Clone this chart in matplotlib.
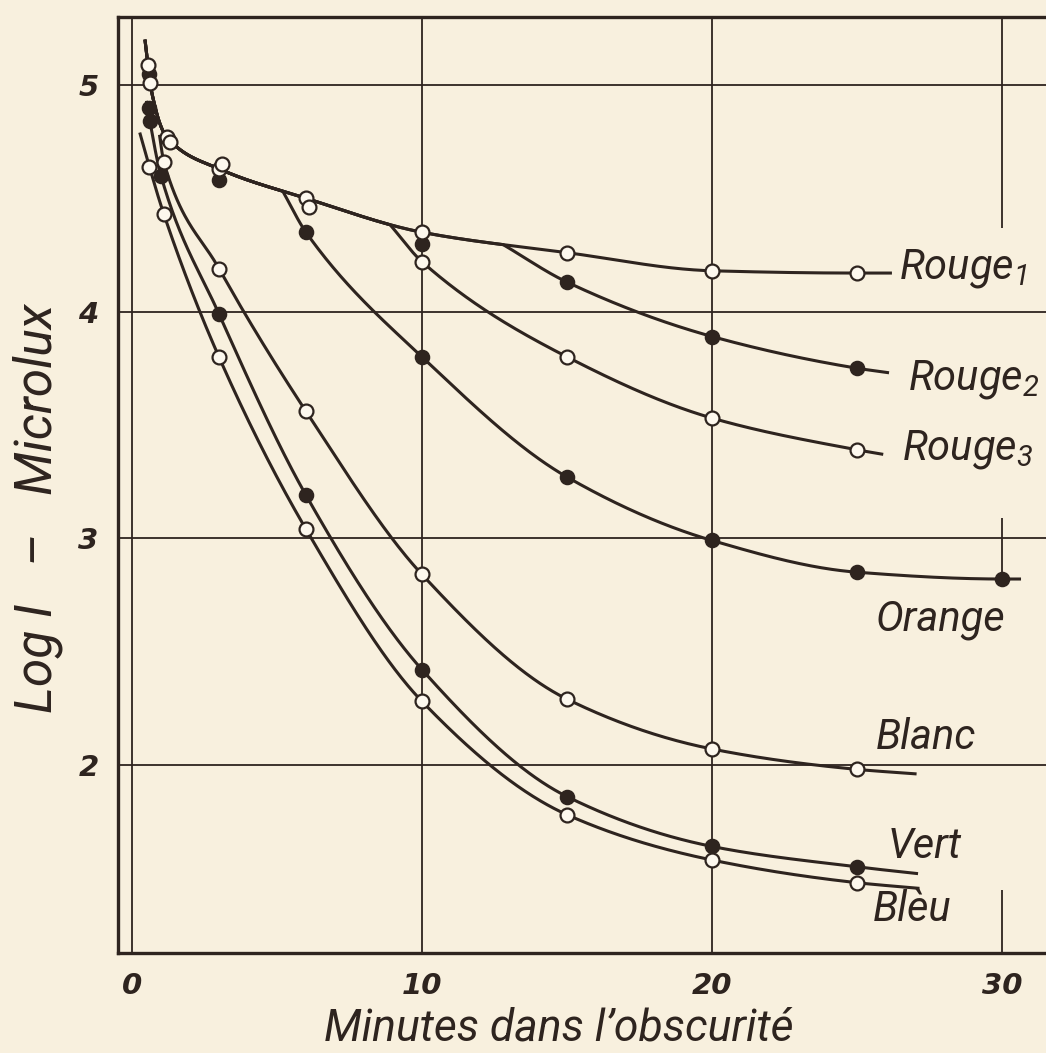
import numpy as np
import matplotlib
matplotlib.use("Agg")
import matplotlib.pyplot as plt
from matplotlib import font_manager

# ---- data: minutes in the dark vs. log threshold (microlux) ----
rouge1_min = [0.55, 0.62, 1.2, 3, 6, 10, 15, 20, 25]
rouge1_log = [5.09, 5.01, 4.77, 4.63, 4.50, 4.35, 4.26, 4.18, 4.17]

rouge2_min = [0.6, 1.25, 3, 10, 15, 20, 25]
rouge2_log = [5.05, 4.76, 4.58, 4.30, 4.13, 3.89, 3.75]

rouge3_min = [1.3, 3.1, 6.1, 10, 15, 20, 25]
rouge3_log = [4.75, 4.65, 4.46, 4.22, 3.80, 3.53, 3.39]

orange_min = [0.6, 6, 10, 15, 20, 25, 30]
orange_log = [4.90, 4.35, 3.80, 3.27, 2.99, 2.85, 2.82]

blanc_min = [1.1, 3, 6, 10, 15, 20, 25]
blanc_log = [4.66, 4.19, 3.56, 2.84, 2.29, 2.07, 1.98]

vert_min = [0.62, 1.0, 3, 6, 10, 15, 20, 25]
vert_log = [4.84, 4.60, 3.99, 3.19, 2.42, 1.86, 1.64, 1.55]

bleu_min = [0.6, 1.1, 3, 6, 10, 15, 20, 25]
bleu_log = [4.64, 4.43, 3.80, 3.04, 2.28, 1.78, 1.58, 1.48]

# where each curve starts / ends (minutes, log I) and where the red/orange
# curves leave the common Rouge1 trace (minutes)
rouge1_start, rouge1_end = (0.45, 5.20), (26.2, 4.17)
rouge2_branch, rouge2_end = 12.8, (26.1, 3.73)
rouge3_branch, rouge3_end = 8.9, (25.9, 3.37)
orange_branch, orange_end = 5.2, (30.65, 2.82)
blanc_start, blanc_end = (0.95, 4.78), (27.05, 1.96)
vert_start, vert_end = (0.5, 4.93), (27.1, 1.52)
bleu_start, bleu_end = (0.27, 4.79), (27.15, 1.455)

x_ticks = [0, 10, 20, 30]
x_ticklabels = ["0", "10", "20", "30"]
y_ticks = [2, 3, 4, 5]
y_ticklabels = ["2", "3", "4", "5"]

PAPER = "#f8f0de"
INK = "#2e241f"


def pick(*names):
    have = {f.name for f in font_manager.fontManager.ttflist}
    for n in names:
        if n in have:
            return n
    return "DejaVu Sans"


LABEL_FONT = pick("Roboto", "Open Sans", "Liberation Sans")
TICK_FONT = pick("DejaVu Sans")

plt.rcParams["mathtext.fontset"] = "custom"
plt.rcParams["mathtext.rm"] = LABEL_FONT + ":italic"
plt.rcParams["mathtext.it"] = LABEL_FONT + ":italic"


def pchip(xk, yk, xs):
    """Monotone cubic Hermite curve through the nodes."""
    xk = np.asarray(xk, float)
    yk = np.asarray(yk, float)
    h = np.diff(xk)
    d = np.diff(yk) / h
    m = np.zeros_like(yk)
    m[0], m[-1] = d[0], d[-1]
    for k in range(1, len(xk) - 1):
        if d[k - 1] * d[k] <= 0:
            m[k] = 0.0
        else:
            w1 = 2 * h[k] + h[k - 1]
            w2 = h[k] + 2 * h[k - 1]
            m[k] = (w1 + w2) / (w1 / d[k - 1] + w2 / d[k])
    xs = np.asarray(xs, float)
    idx = np.clip(np.searchsorted(xk, xs) - 1, 0, len(xk) - 2)
    t = (xs - xk[idx]) / h[idx]
    h00 = 2 * t**3 - 3 * t**2 + 1
    h10 = t**3 - 2 * t**2 + t
    h01 = -2 * t**3 + 3 * t**2
    h11 = t**3 - t**2
    return (h00 * yk[idx] + h10 * h[idx] * m[idx]
            + h01 * yk[idx + 1] + h11 * h[idx] * m[idx + 1])


def trace(start, xs, ys, end):
    xk = [start[0]] + list(xs) + [end[0]]
    yk = [start[1]] + list(ys) + [end[1]]
    xx = np.linspace(xk[0], xk[-1], 600)
    return xx, pchip(xk, yk, xx)


def branch(base_x, base_y, at, xs, ys, end):
    keep = base_x <= at
    y_at = np.interp(at, base_x, base_y)
    px = [x for x in xs if x > at]
    py = [y for x, y in zip(xs, ys) if x > at]
    xk = [at] + px + [end[0]]
    yk = [y_at] + py + [end[1]]
    xx = np.linspace(at, end[0], 500)
    return (np.concatenate([base_x[keep], xx]),
            np.concatenate([base_y[keep], pchip(xk, yk, xx)]))


fig = plt.figure(figsize=(10.46, 10.53), dpi=100, facecolor=PAPER)
ax = fig.add_axes([0.1128, 0.0950, 0.9063, 0.8889], facecolor=PAPER)
ax.set_xlim(-0.48, 32.2)
ax.set_ylim(1.17, 5.30)

# grid
for y in y_ticks:
    ax.axhline(y, color=INK, lw=1.3, zorder=1)
for x in x_ticks[:-1]:
    ax.axvline(x, color=INK, lw=1.3, zorder=1)
for lo, hi in [(4.37, 5.30), (2.80, 3.09), (1.17, 1.45)]:
    ax.vlines(30, lo, hi, color=INK, lw=1.3, zorder=1)

# curves
r1x, r1y = trace(rouge1_start, rouge1_min, rouge1_log, rouge1_end)
curves = [
    (r1x, r1y),
    branch(r1x, r1y, rouge2_branch, rouge2_min, rouge2_log, rouge2_end),
    branch(r1x, r1y, rouge3_branch, rouge3_min, rouge3_log, rouge3_end),
    branch(r1x, r1y, orange_branch, orange_min, orange_log, orange_end),
    trace(blanc_start, blanc_min, blanc_log, blanc_end),
    trace(vert_start, vert_min, vert_log, vert_end),
    trace(bleu_start, bleu_min, bleu_log, bleu_end),
]
for cx, cy in curves:
    ax.plot(cx, cy, color=INK, lw=2.2, solid_capstyle="butt", zorder=2)

# markers: open circles and filled dots
open_series = [(rouge1_min, rouge1_log), (rouge3_min, rouge3_log),
               (blanc_min, blanc_log), (bleu_min, bleu_log)]
filled_series = [(rouge2_min, rouge2_log), (orange_min, orange_log),
                 (vert_min, vert_log)]
for xs, ys in filled_series:
    ax.plot(xs, ys, "o", ms=10, mfc=INK, mec=INK, mew=1.2, zorder=3)
for xs, ys in open_series:
    ax.plot(xs, ys, "o", ms=10, mfc="#fdf8ee", mec=INK, mew=1.6, zorder=4)

# curve names
lab = dict(fontsize=30, color=INK, family=LABEL_FONT, style="italic",
           va="center", ha="left", zorder=5)
ax.text(26.45, 4.19, r"Rouge$_{1}$", **lab)
ax.text(26.75, 3.70, r"Rouge$_{2}$", **lab)
ax.text(26.55, 3.39, r"Rouge$_{3}$", **lab)
ax.text(25.65, 2.64, "Orange", **lab)
ax.text(25.65, 2.12, "Blanc", **lab)
ax.text(26.05, 1.64, "Vert", **lab)
ax.text(25.55, 1.36, "Blèu", **lab)

# axes frame and ticks
for side in ["left", "top", "bottom"]:
    ax.spines[side].set_linewidth(2.4)
    ax.spines[side].set_color(INK)
ax.spines["right"].set_visible(False)
ax.set_xticks(x_ticks)
ax.set_xticklabels(x_ticklabels, family=TICK_FONT, style="italic",
                   weight="bold", fontsize=21, color=INK)
ax.set_yticks(y_ticks)
ax.set_yticklabels(y_ticklabels, family=TICK_FONT, style="italic",
                   weight="bold", fontsize=21, color=INK)
ax.tick_params(length=0, pad=14)

ax.set_xlabel("Minutes dans l’obscurité", family=LABEL_FONT, style="italic",
              fontsize=32, color=INK)
ax.xaxis.set_label_coords(0.465, -0.058)
ax.set_ylabel("Log I   –   Microlux", family=LABEL_FONT, style="italic",
              fontsize=37, color=INK)
ax.yaxis.set_label_coords(-0.058, 0.475)

fig.savefig("out.png", dpi=100, facecolor=PAPER)
